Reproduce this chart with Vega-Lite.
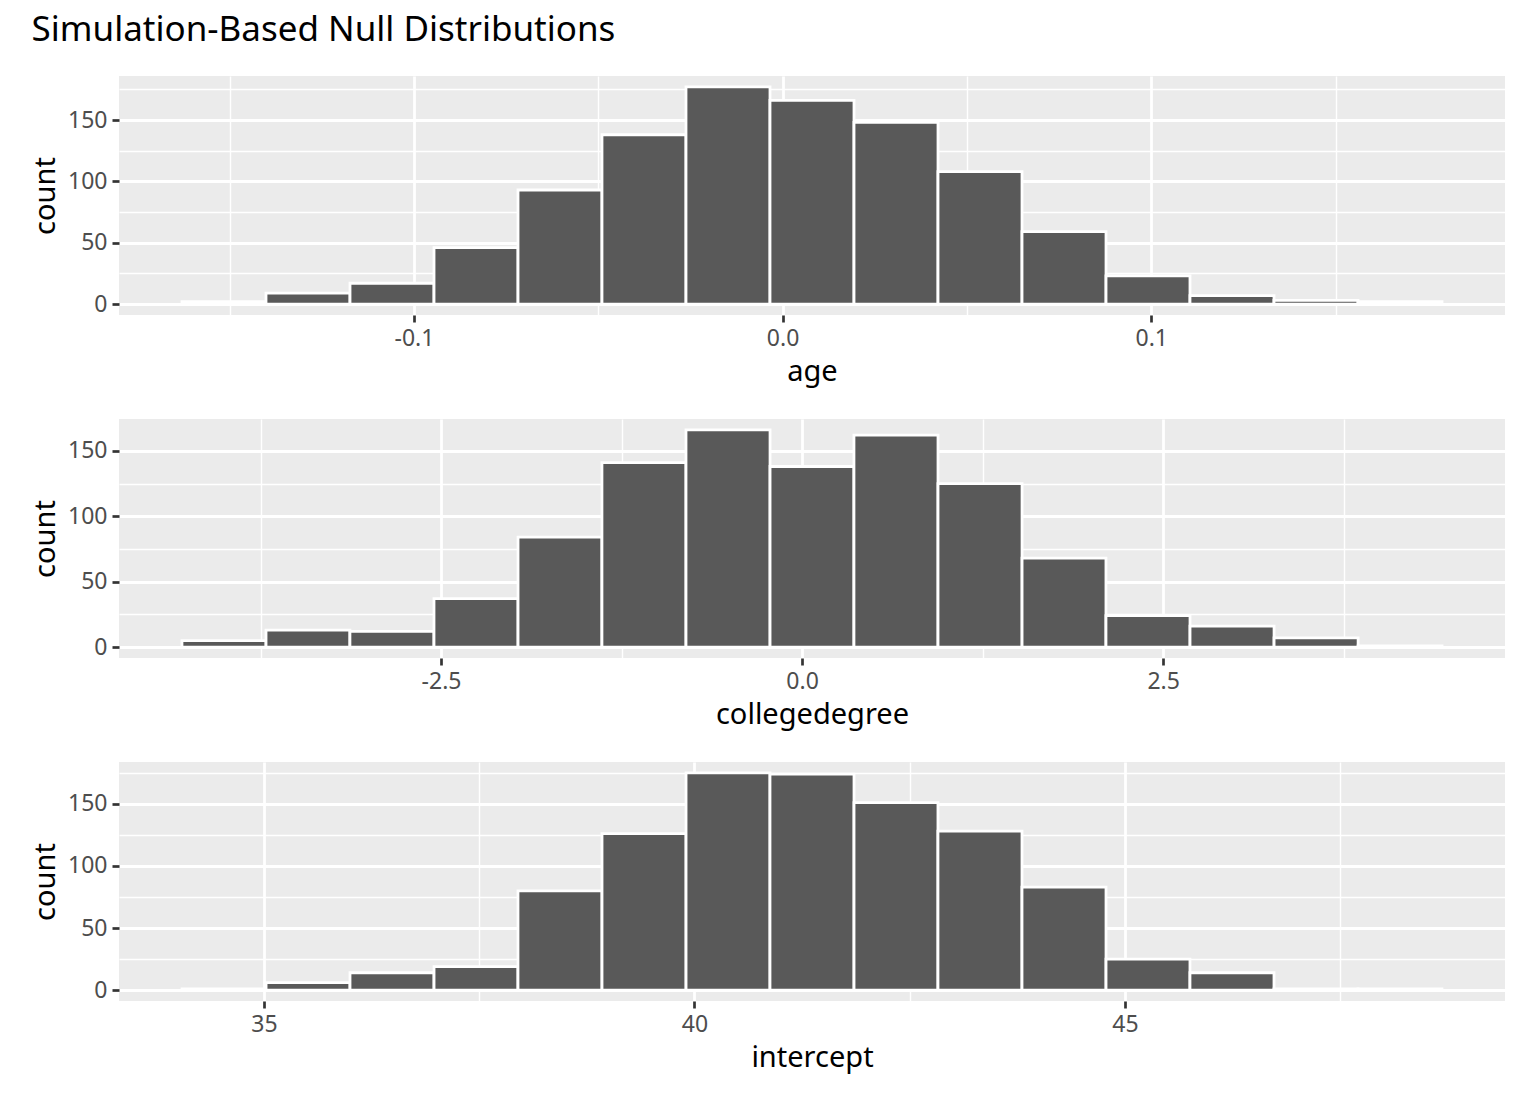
{
  "$schema": "https://vega.github.io/schema/vega-lite/v6.json",
  "background": "white",
  "padding": {"left": 31, "top": 13, "right": 10, "bottom": 10},
  "title": {"text": "Simulation-Based Null Distributions", "anchor": "start", "fontSize": 35, "font": "Noto Sans", "fontWeight": "normal", "color": "black", "offset": 28},
  "spacing": 104,
  "bounds": "flush",
  "data": {"values": [
    {"stat": "age", "bin_start": -0.16294, "bin_end": -0.14015, "count": 2},
    {"stat": "age", "bin_start": -0.14015, "bin_end": -0.11736, "count": 9},
    {"stat": "age", "bin_start": -0.11736, "bin_end": -0.09457, "count": 17},
    {"stat": "age", "bin_start": -0.09457, "bin_end": -0.07178, "count": 46},
    {"stat": "age", "bin_start": -0.07178, "bin_end": -0.04900, "count": 93},
    {"stat": "age", "bin_start": -0.04900, "bin_end": -0.02621, "count": 138},
    {"stat": "age", "bin_start": -0.02621, "bin_end": -0.00342, "count": 177},
    {"stat": "age", "bin_start": -0.00342, "bin_end": 0.01937, "count": 166},
    {"stat": "age", "bin_start": 0.01937, "bin_end": 0.04216, "count": 148},
    {"stat": "age", "bin_start": 0.04216, "bin_end": 0.06495, "count": 108},
    {"stat": "age", "bin_start": 0.06495, "bin_end": 0.08774, "count": 59},
    {"stat": "age", "bin_start": 0.08774, "bin_end": 0.11052, "count": 23},
    {"stat": "age", "bin_start": 0.11052, "bin_end": 0.13331, "count": 7},
    {"stat": "age", "bin_start": 0.13331, "bin_end": 0.15610, "count": 3},
    {"stat": "age", "bin_start": 0.15610, "bin_end": 0.17889, "count": 2},
    {"stat": "collegedegree", "bin_start": -4.294, "bin_end": -3.712, "count": 5},
    {"stat": "collegedegree", "bin_start": -3.712, "bin_end": -3.131, "count": 13},
    {"stat": "collegedegree", "bin_start": -3.131, "bin_end": -2.549, "count": 12},
    {"stat": "collegedegree", "bin_start": -2.549, "bin_end": -1.967, "count": 37},
    {"stat": "collegedegree", "bin_start": -1.967, "bin_end": -1.386, "count": 84},
    {"stat": "collegedegree", "bin_start": -1.386, "bin_end": -0.804, "count": 141},
    {"stat": "collegedegree", "bin_start": -0.804, "bin_end": -0.222, "count": 166},
    {"stat": "collegedegree", "bin_start": -0.222, "bin_end": 0.359, "count": 138},
    {"stat": "collegedegree", "bin_start": 0.359, "bin_end": 0.941, "count": 162},
    {"stat": "collegedegree", "bin_start": 0.941, "bin_end": 1.523, "count": 125},
    {"stat": "collegedegree", "bin_start": 1.523, "bin_end": 2.104, "count": 68},
    {"stat": "collegedegree", "bin_start": 2.104, "bin_end": 2.686, "count": 24},
    {"stat": "collegedegree", "bin_start": 2.686, "bin_end": 3.268, "count": 16},
    {"stat": "collegedegree", "bin_start": 3.268, "bin_end": 3.850, "count": 7},
    {"stat": "collegedegree", "bin_start": 3.850, "bin_end": 4.431, "count": 1},
    {"stat": "intercept", "bin_start": 34.048, "bin_end": 35.024, "count": 1},
    {"stat": "intercept", "bin_start": 35.024, "bin_end": 35.999, "count": 6},
    {"stat": "intercept", "bin_start": 35.999, "bin_end": 36.975, "count": 14},
    {"stat": "intercept", "bin_start": 36.975, "bin_end": 37.950, "count": 19},
    {"stat": "intercept", "bin_start": 37.950, "bin_end": 38.926, "count": 80},
    {"stat": "intercept", "bin_start": 38.926, "bin_end": 39.902, "count": 126},
    {"stat": "intercept", "bin_start": 39.902, "bin_end": 40.877, "count": 175},
    {"stat": "intercept", "bin_start": 40.877, "bin_end": 41.853, "count": 174},
    {"stat": "intercept", "bin_start": 41.853, "bin_end": 42.828, "count": 151},
    {"stat": "intercept", "bin_start": 42.828, "bin_end": 43.804, "count": 128},
    {"stat": "intercept", "bin_start": 43.804, "bin_end": 44.780, "count": 83},
    {"stat": "intercept", "bin_start": 44.780, "bin_end": 45.755, "count": 25},
    {"stat": "intercept", "bin_start": 45.755, "bin_end": 46.731, "count": 14},
    {"stat": "intercept", "bin_start": 46.731, "bin_end": 47.706, "count": 1},
    {"stat": "intercept", "bin_start": 47.706, "bin_end": 48.682, "count": 1}
  ]},
  "vconcat": [
    {
      "width": 1386, "height": 239,
      "transform": [{"filter": "datum.stat === 'age'"}],
      "mark": {"type": "rect", "fill": "#595959", "stroke": "white", "strokeWidth": 2.8},
      "encoding": {
        "x": {"field": "bin_start", "type": "quantitative", "title": "age",
          "scale": {"domain": [-0.18003, 0.19598], "nice": false, "zero": false},
          "axis": {"values": [-0.15, -0.1, -0.05, 0, 0.05, 0.1, 0.15],
            "labelExpr": "abs(datum.value*10 - round(datum.value*10)) < 0.001 ? replace(format(datum.value, '.1f'), '\u2212', '-') : ''",
            "gridWidth": {"condition": {"test": "abs(datum.value*10 - round(datum.value*10)) < 0.001", "value": 2.8}, "value": 1.4},
            "tickOpacity": {"condition": {"test": "abs(datum.value*10 - round(datum.value*10)) < 0.001", "value": 1}, "value": 0}}},
        "x2": {"field": "bin_end"},
        "y": {"field": "count", "type": "quantitative", "title": "count",
          "scale": {"domain": [-8.85, 185.85], "nice": false, "zero": false},
          "axis": {"values": [0, 25, 50, 75, 100, 125, 150, 175],
            "labelExpr": "datum.value % 50 === 0 ? datum.label : ''",
            "gridWidth": {"condition": {"test": "datum.value % 50 === 0", "value": 2.8}, "value": 1.4},
            "tickOpacity": {"condition": {"test": "datum.value % 50 === 0", "value": 1}, "value": 0}}},
        "y2": {"datum": 0}
      }
    },
    {
      "width": 1386, "height": 239,
      "transform": [{"filter": "datum.stat === 'collegedegree'"}],
      "mark": {"type": "rect", "fill": "#595959", "stroke": "white", "strokeWidth": 2.8},
      "encoding": {
        "x": {"field": "bin_start", "type": "quantitative", "title": "collegedegree",
          "scale": {"domain": [-4.730, 4.867], "nice": false, "zero": false},
          "axis": {"values": [-3.75, -2.5, -1.25, 0, 1.25, 2.5, 3.75],
            "labelExpr": "abs(datum.value/2.5 - round(datum.value/2.5)) < 0.001 ? replace(format(datum.value, '.1f'), '\u2212', '-') : ''",
            "gridWidth": {"condition": {"test": "abs(datum.value/2.5 - round(datum.value/2.5)) < 0.001", "value": 2.8}, "value": 1.4},
            "tickOpacity": {"condition": {"test": "abs(datum.value/2.5 - round(datum.value/2.5)) < 0.001", "value": 1}, "value": 0}}},
        "x2": {"field": "bin_end"},
        "y": {"field": "count", "type": "quantitative", "title": "count",
          "scale": {"domain": [-8.3, 174.3], "nice": false, "zero": false},
          "axis": {"values": [0, 25, 50, 75, 100, 125, 150],
            "labelExpr": "datum.value % 50 === 0 ? datum.label : ''",
            "gridWidth": {"condition": {"test": "datum.value % 50 === 0", "value": 2.8}, "value": 1.4},
            "tickOpacity": {"condition": {"test": "datum.value % 50 === 0", "value": 1}, "value": 0}}},
        "y2": {"datum": 0}
      }
    },
    {
      "width": 1386, "height": 239,
      "transform": [{"filter": "datum.stat === 'intercept'"}],
      "mark": {"type": "rect", "fill": "#595959", "stroke": "white", "strokeWidth": 2.8},
      "encoding": {
        "x": {"field": "bin_start", "type": "quantitative", "title": "intercept",
          "scale": {"domain": [33.316, 49.414], "nice": false, "zero": false},
          "axis": {"values": [35, 37.5, 40, 42.5, 45, 47.5],
            "labelExpr": "datum.value % 5 === 0 ? format(datum.value, 'd') : ''",
            "gridWidth": {"condition": {"test": "datum.value % 5 === 0", "value": 2.8}, "value": 1.4},
            "tickOpacity": {"condition": {"test": "datum.value % 5 === 0", "value": 1}, "value": 0}}},
        "x2": {"field": "bin_end"},
        "y": {"field": "count", "type": "quantitative", "title": "count",
          "scale": {"domain": [-8.75, 183.75], "nice": false, "zero": false},
          "axis": {"values": [0, 25, 50, 75, 100, 125, 150, 175],
            "labelExpr": "datum.value % 50 === 0 ? datum.label : ''",
            "gridWidth": {"condition": {"test": "datum.value % 50 === 0", "value": 2.8}, "value": 1.4},
            "tickOpacity": {"condition": {"test": "datum.value % 50 === 0", "value": 1}, "value": 0}}},
        "y2": {"datum": 0}
      }
    }
  ],
  "config": {
    "font": "Noto Sans",
    "view": {"fill": "#EBEBEB", "stroke": null},
    "axis": {
      "domain": false,
      "grid": true,
      "gridColor": "white",
      "tickColor": "#333333",
      "tickWidth": 2.7,
      "tickSize": 7,
      "labelFont": "Noto Sans",
      "labelFontSize": 23,
      "labelColor": "#4d4d4d",
      "labelPadding": 5,
      "labelOverlap": false,
      "labelFlush": false,
      "titleFont": "Noto Sans",
      "titleFontSize": 29,
      "titleFontWeight": "normal",
      "titleColor": "black",
      "titlePadding": 7
    }
  }
}
